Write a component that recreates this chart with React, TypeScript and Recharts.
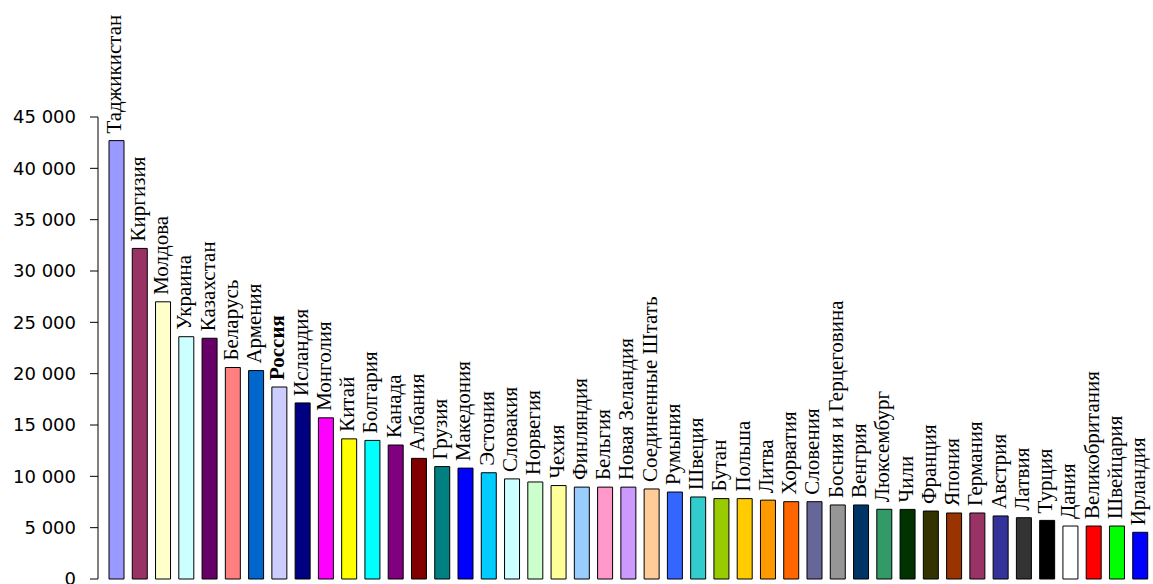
import { BarChart, Bar, XAxis, YAxis, Cell, LabelList } from 'recharts';

const countries = [
  'Таджикистан', 'Киргизия', 'Молдова', 'Украина', 'Казахстан', 'Беларусь', 'Армения', 'Россия',
  'Исландия', 'Монголия', 'Китай', 'Болгария', 'Канада', 'Албания', 'Грузия', 'Македония',
  'Эстония', 'Словакия', 'Норвегия', 'Чехия', 'Финляндия', 'Бельгия', 'Новая Зеландия',
  'Соединенные Штать', 'Румыния', 'Швеция', 'Бутан', 'Польша', 'Литва', 'Хорватия', 'Словения',
  'Босния и Герцеговина', 'Венгрия', 'Люксембург', 'Чили', 'Франция', 'Япония', 'Германия',
  'Австрия', 'Латвия', 'Турция', 'Дания', 'Великобритания', 'Швейцария', 'Ирландия',
];

const values = [
  42700, 32200, 27000, 23600, 23450, 20600, 20300, 18700,
  17150, 15700, 13650, 13500, 13050, 11750, 10950, 10800,
  10350, 9750, 9450, 9100, 8950, 8950, 8950,
  8770, 8470, 7990, 7830, 7830, 7680, 7530, 7530,
  7210, 7210, 6790, 6780, 6620, 6430, 6430,
  6140, 5970, 5710, 5160, 5160, 5160, 4550,
];

const colors = [
  '#9999FF', '#993366', '#FFFFCC', '#CCFFFF', '#660066', '#FF8080', '#0066CC', '#CCCCFF',
  '#000080', '#FF00FF', '#FFFF00', '#00FFFF', '#800080', '#800000', '#008080', '#0000FF',
  '#00CCFF', '#CCFFFF', '#CCFFCC', '#FFFF99', '#99CCFF', '#FF99CC', '#CC99FF',
  '#FFCC99', '#3366FF', '#33CCCC', '#99CC00', '#FFCC00', '#FF9900', '#FF6600', '#666699',
  '#969696', '#003366', '#339966', '#003300', '#333300', '#993300', '#993366',
  '#333399', '#333333', '#000000', '#FFFFFF', '#FF0000', '#00FF00', '#0000FF',
];

const yTicks = [0, 5000, 10000, 15000, 20000, 25000, 30000, 35000, 40000, 45000];
const yTickLabels = ['0', '5 000', '10 000', '15 000', '20 000', '25 000', '30 000', '35 000', '40 000', '45 000'];

const data = countries.map((name, i) => ({ name, value: values[i] }));

// rotated country name sitting on top of each bar
function BarName(props: any) {
  const { x, y, width, index } = props;
  const tx = x + width / 2 + 5;
  const ty = y - 7;
  return (
    <text
      x={tx}
      y={ty}
      transform={`rotate(-90 ${tx} ${ty})`}
      textAnchor="start"
      fontFamily="'Liberation Serif', serif"
      fontSize={21}
      fontWeight={countries[index] === 'Россия' ? 'bold' : 'normal'}
      fill="#000"
    >
      {countries[index]}
    </text>
  );
}

export default function App() {
  return (
    <div style={{ position: 'absolute', left: 0, top: 0, width: 1153, height: 584, background: '#fff' }}>
      <BarChart
        width={1153}
        height={584}
        data={data}
        margin={{ top: 117, right: 1, bottom: 5, left: 0 }}
      >
        <XAxis
          dataKey="name"
          tick={false}
          tickLine={false}
          height={0}
          padding={{ left: 7, right: 0 }}
          axisLine={{ stroke: '#000', strokeWidth: 1 }}
        />
        <YAxis
          width={98}
          domain={[0, 45000]}
          ticks={yTicks}
          interval={0}
          tickSize={8}
          tickMargin={14}
          axisLine={{ stroke: '#000', strokeWidth: 1 }}
          tickLine={{ stroke: '#000', strokeWidth: 1 }}
          tick={{ fill: '#000', fontSize: 18, fontFamily: "'DejaVu Sans', sans-serif" }}
          tickFormatter={(v) => yTickLabels[yTicks.indexOf(v)]}
        />
        <Bar dataKey="value" barSize={15} stroke="#000" strokeWidth={1} isAnimationActive={false}>
          {data.map((d, i) => (
            <Cell key={d.name} fill={colors[i]} />
          ))}
          <LabelList dataKey="value" content={<BarName />} />
        </Bar>
      </BarChart>
    </div>
  );
}
